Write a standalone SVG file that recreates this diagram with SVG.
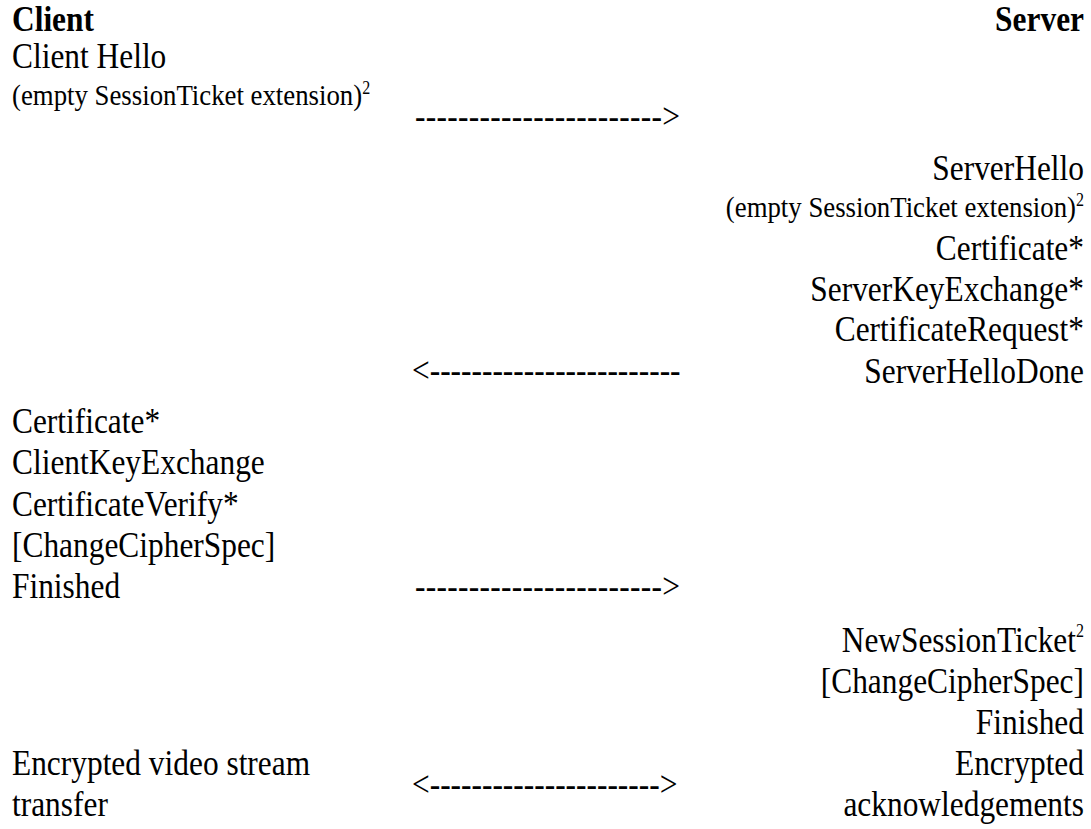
<svg xmlns="http://www.w3.org/2000/svg" width="1091" height="829" viewBox="0 0 1091 829">
  <style>
    text { font-family: "Liberation Serif", "Times New Roman", "DejaVu Serif", serif; fill: #000; }
    .hd { font-size: 31.4px; font-weight: bold; }
    .msg { font-size: 31.4px; }
    .note { font-size: 26.8px; }
    .sup { font-size: 16px; }
    .l { text-anchor: start; }
    .r { text-anchor: end; }
    .arrow { font-size: 31.4px; }
  </style>
  <rect width="1091" height="829" fill="#fff"/>

  <!-- the whole sheet uses slightly tall lettering: stretch vertically -->
  <g transform="scale(1,1.12)">
    <!-- column headings -->
    <g id="client-heading"><text class="hd l" x="12" y="27.7">Client</text></g>
    <g id="server-heading"><text class="hd r" x="1084" y="27.7">Server</text></g>

    <!-- client, first flight -->
    <g id="client-hello">
      <text class="msg l" x="12" y="60.5">Client Hello</text>
      <text class="note l" x="12" y="93.5">(empty SessionTicket extension)<tspan class="sup" dy="-10">2</tspan></text>
    </g>

    <!-- server, first flight -->
    <g id="server-hello">
      <text class="msg r" x="1084" y="161">ServerHello</text>
      <text class="note r" x="1084" y="193.5">(empty SessionTicket extension)<tspan class="sup" dy="-10">2</tspan></text>
    </g>
    <g id="server-certificate"><text class="msg r" x="1084" y="232.1">Certificate*</text></g>
    <g id="server-key-exchange"><text class="msg r" x="1084" y="268.8">ServerKeyExchange*</text></g>
    <g id="certificate-request"><text class="msg r" x="1084" y="304.5">CertificateRequest*</text></g>
    <g id="server-hello-done"><text class="msg r" x="1084" y="342">ServerHelloDone</text></g>

    <!-- client, second flight -->
    <g id="client-certificate"><text class="msg l" x="12" y="386.6">Certificate*</text></g>
    <g id="client-key-exchange"><text class="msg l" x="12" y="423.2">ClientKeyExchange</text></g>
    <g id="certificate-verify"><text class="msg l" x="12" y="460.7">CertificateVerify*</text></g>
    <g id="client-change-cipher-spec"><text class="msg l" x="12" y="497.3">[ChangeCipherSpec]</text></g>
    <g id="client-finished"><text class="msg l" x="12" y="533.9">Finished</text></g>

    <!-- server, second flight -->
    <g id="new-session-ticket"><text class="msg r" x="1084" y="582.1">NewSessionTicket<tspan class="sup" dy="-13">2</tspan></text></g>
    <g id="server-change-cipher-spec"><text class="msg r" x="1084" y="618.8">[ChangeCipherSpec]</text></g>
    <g id="server-finished"><text class="msg r" x="1084" y="655.4">Finished</text></g>

    <!-- application data -->
    <g id="client-video">
      <text class="msg l" x="12" y="692">Encrypted video stream</text>
      <text class="msg l" x="12" y="728.6">transfer</text>
    </g>
    <g id="server-acks">
      <text class="msg r" x="1084" y="692">Encrypted</text>
      <text class="msg r" x="1084" y="728.6">acknowledgements</text>
    </g>

    <!-- message arrows -->
    <g id="connectors">
      <text class="arrow l" x="415" y="114" letter-spacing="0.3">-----------------------&gt;</text>
      <text class="arrow l" x="412" y="341.5">&lt;------------------------</text>
      <text class="arrow l" x="415" y="533.5" letter-spacing="0.3">-----------------------&gt;</text>
      <text class="arrow l" x="412" y="710.5">&lt;----------------------&gt;</text>
    </g>
  </g>
</svg>
